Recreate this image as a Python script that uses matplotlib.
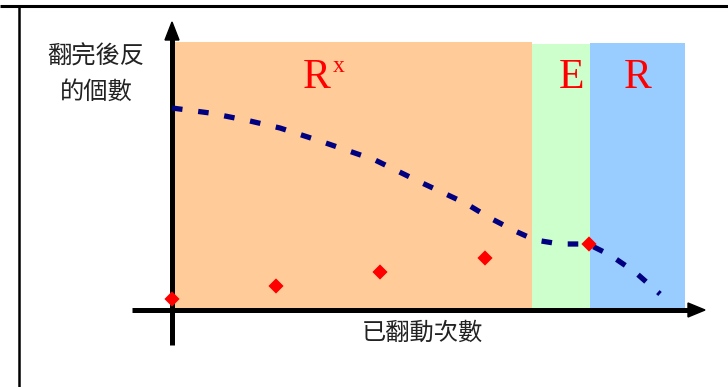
import matplotlib
matplotlib.use("Agg")
import matplotlib.pyplot as plt
from matplotlib.patches import Rectangle, Polygon

plt.rcParams['font.family'] = ['Noto Sans CJK TC', 'DejaVu Sans']

# Diagram data (x: steps along horizontal axis, y: count)
curve_x = [0, 38, 78, 108, 148, 203, 248, 293, 318, 343, 363, 388, 416, 438, 463, 488]
curve_y = [202, 197, 189, 182, 169, 150, 128, 107, 92, 79, 70, 66, 66, 55, 38, 16]
point_x = [0, 104, 208, 313, 417]
point_y = [11, 24, 38, 52, 66]

region_names = ["R", "E", "R"]
region_sup = ["x", "", ""]
region_start = [2, 360, 418]
region_end = [360, 418, 513]
region_top = [268, 266, 267]
region_bottom = [0, -3, -3]
region_colors = ["#FFCC99", "#CCFFCC", "#99CCFF"]
region_label_x = [145, 400, 466]

ylabel_text = "翻完後反\n的個數"
xlabel_text = "已翻動次數"

W, H = 728, 387
fig = plt.figure(figsize=(W / 100, H / 100), dpi=100)
ax = fig.add_axes([0, 0, 1, 1])
ax.set_xlim(-172, W - 172)
ax.set_ylim(310 - H, 310)
ax.axis("off")

# frame lines
ax.plot([-172, W - 172], [304, 304], color="black", lw=2.2, solid_capstyle="butt")
ax.plot([-153, -153], [304, 310 - H], color="black", lw=1.8, solid_capstyle="butt")

# regions
for s, e, t, b, c in zip(region_start, region_end, region_top, region_bottom, region_colors):
    ax.add_patch(Rectangle((s, b), e - s, t - b, facecolor=c, edgecolor="none", zorder=1))
for name, sup, lx in zip(region_names, region_sup, region_label_x):
    ax.text(lx, 232, name, color="red", fontsize=30, family="Liberation Serif",
            ha="center", va="center", zorder=5)
    if sup:
        ax.text(lx + 16, 244, sup, color="red", fontsize=17, family="Liberation Serif",
                ha="left", va="center", zorder=5)

# axes
ax.plot([-40, 518], [0, 0], color="black", lw=3.6, solid_capstyle="butt", zorder=3)
ax.add_patch(Polygon([[516, 7], [533, 0], [516, -7]], closed=True, color="black", zorder=3))
ax.plot([0, 0], [-35, 272], color="black", lw=3.6, solid_capstyle="butt", zorder=3)
ax.add_patch(Polygon([[-7, 270], [0, 288], [7, 270]], closed=True, color="black", zorder=3))

# dashed curve
ax.plot(curve_x, curve_y, color="#000080", lw=3.8, dashes=(2.0, 3.0),
        dash_capstyle="butt", zorder=4)
# points
ax.scatter(point_x, point_y, marker="D", s=60, color="red", edgecolors="none", zorder=5)

# labels
ax.text(-76, 236, ylabel_text, ha="center", va="center", fontsize=17.5,
        color="#222222", linespacing=1.45, zorder=5)
ax.text(250, -23, xlabel_text, ha="center", va="center", fontsize=17.5,
        color="#222222", zorder=5)

fig.savefig("out.png", dpi=100)
